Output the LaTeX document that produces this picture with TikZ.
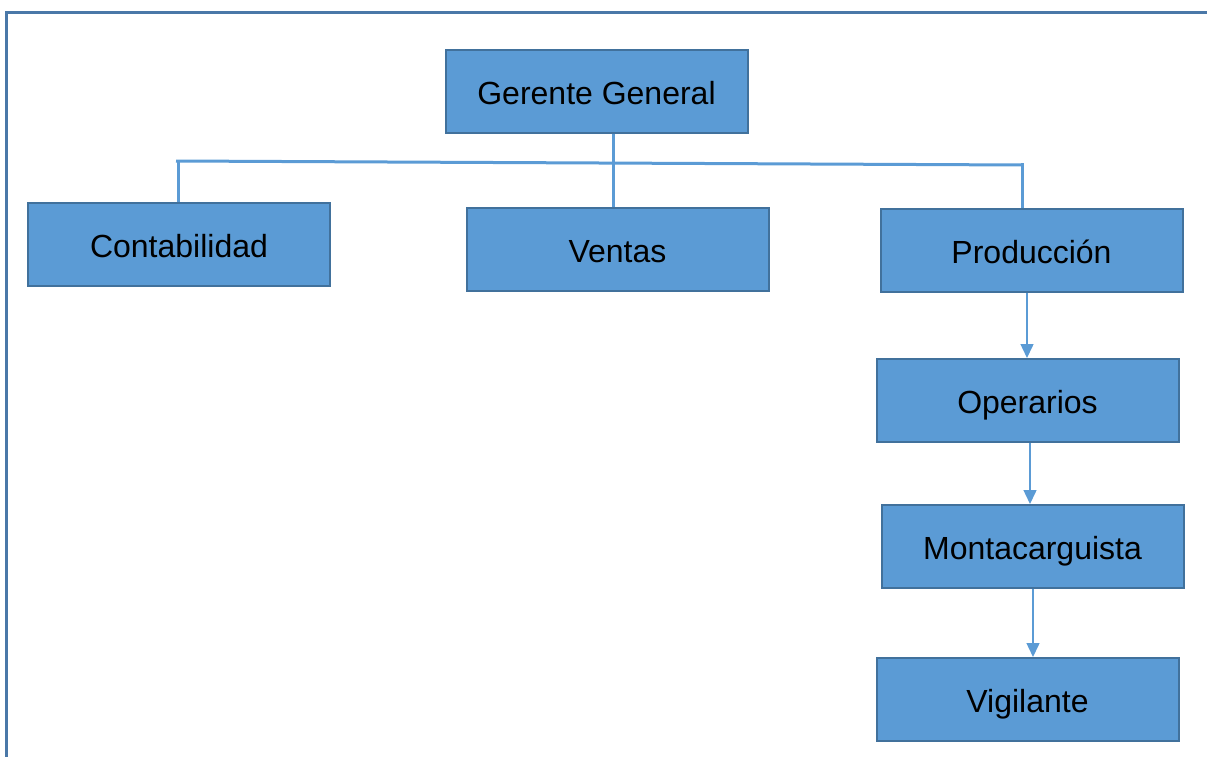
\documentclass[tikz,border=0pt]{standalone}
\usepackage{fontspec}
\setmainfont{Liberation Sans}
\usetikzlibrary{arrows.meta}
\definecolor{boxfill}{HTML}{5B9BD5}
\definecolor{boxline}{HTML}{41719C}
\definecolor{framec}{HTML}{4A78A8}
\begin{document}
\begin{tikzpicture}[x=1pt,y=-1pt,
  unit/.style={draw=boxline,line width=2pt,fill=boxfill,minimum width=302pt,minimum height=83pt,inner sep=0pt,text height=26pt,text depth=0pt,font=\fontsize{32}{37}\selectfont},
  tree/.style={draw=boxfill,line width=3pt},
  arr/.style={draw=boxfill,line width=1.5pt,-{Triangle[length=14pt,width=13pt]}}]
\useasboundingbox (0,0) rectangle (1207,757);
\draw[framec,line width=3pt] (6,760) -- (6,12.5) -- (1210,12.5);
\node[unit] (gg) at (596.5,91.5) {Gerente General};
\node[unit] (cont) at (179,244) {Contabilidad};
\node[unit] (ven) at (617.5,249) {Ventas};
\node[unit] (prod) at (1031.5,250.5) {Producción};
\node[unit] (oper) at (1027.5,400.5) {Operarios};
\node[unit] (mont) at (1032.5,546.5) {Montacarguista};
\node[unit] (vig) at (1027.5,699.5) {Vigilante};
\coordinate (hl) at (176,161);
\coordinate (hr) at (1022,165);
\draw[tree] (hl) -- (hr);
\draw[tree] (178,161) -- (cont.north -| 178,0);
\draw[tree] (gg.south -| 613,0) -- (ven.north -| 613,0);
\draw[tree] (1022,163) -- (prod.north -| 1022,0);
\draw[arr] (prod.south -| 1027,0) -- (oper.north -| 1027,0);
\draw[arr] (oper.south -| 1030,0) -- (mont.north -| 1030,0);
\draw[arr] (mont.south -| 1033,0) -- (vig.north -| 1033,0);
\end{tikzpicture}
\end{document}
